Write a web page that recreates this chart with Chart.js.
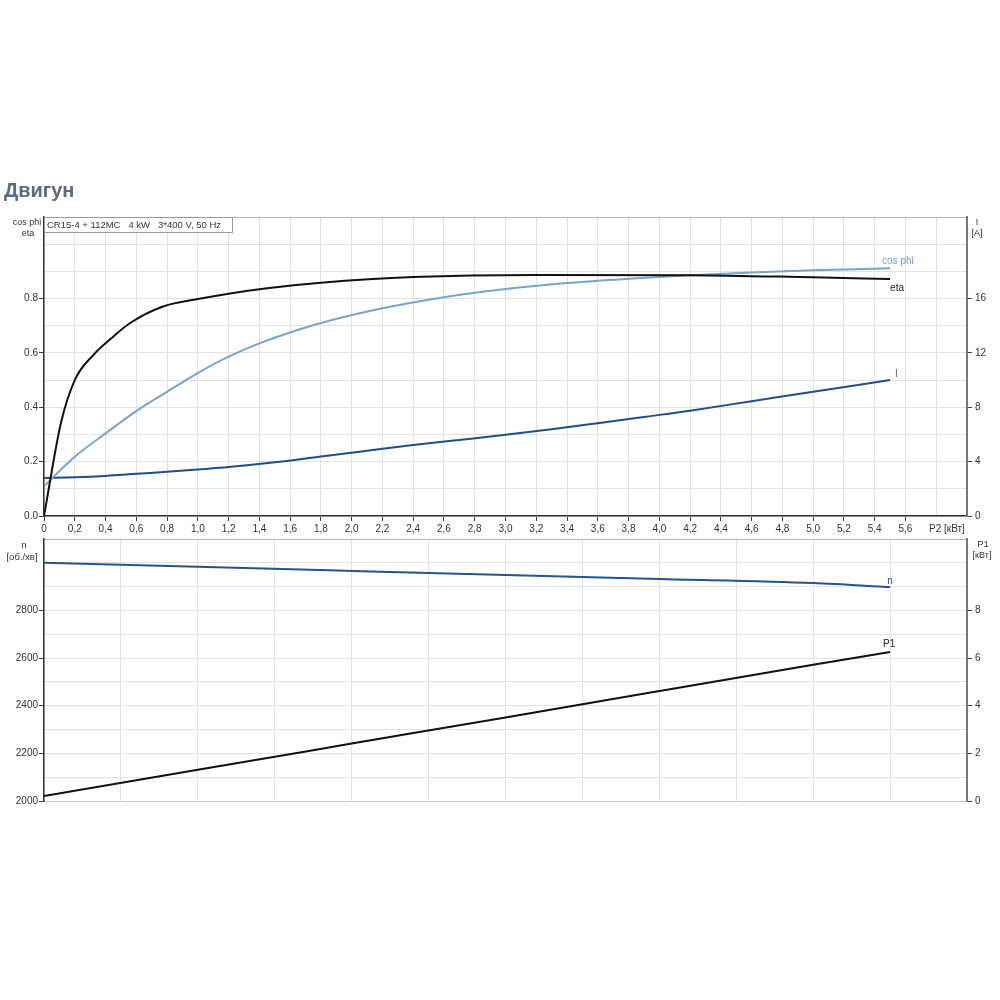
<!DOCTYPE html>
<html>
<head>
<meta charset="utf-8">
<script src="https://cdn.jsdelivr.net/npm/chart.js@4"></script>
<style>
  body { margin: 0; background: #fff; }
  canvas { position: absolute; left: 0; top: 0; }
</style>
</head>
<body>
<canvas id="topChart" width="1000" height="1000"></canvas>
<canvas id="bottomChart" width="1000" height="1000"></canvas>
<script>
// --- дані кривих двигуна ---
const etaP2  = [0, 0.11, 0.2, 0.32, 0.44, 0.56, 0.77, 1.0, 1.2, 1.45, 1.8, 2.4, 3.2, 4.2, 5.0, 5.5];
const etaVal = [0, 0.342, 0.50, 0.592, 0.655, 0.71, 0.77, 0.798, 0.818, 0.838, 0.858, 0.879, 0.887, 0.886, 0.878, 0.872];

const cosP2  = [0, 0.2, 0.4, 0.6, 0.8, 1.0, 1.2, 1.4, 1.6, 1.8, 2.2, 2.6, 3.0, 3.4, 3.8, 4.2, 4.6, 5.0, 5.5];
const cosVal = [0.11, 0.218, 0.304, 0.386, 0.457, 0.526, 0.586, 0.635, 0.675, 0.71, 0.764, 0.805, 0.835, 0.857, 0.873, 0.886, 0.896, 0.904, 0.911];

const curP2  = [0, 0.2, 0.4, 0.6, 0.8, 1.0, 1.2, 1.5, 1.8, 2.1, 2.4, 2.7, 3.0, 3.3, 3.6, 3.9, 4.2, 4.6, 5.0, 5.5];
const curVal = [2.8, 2.85, 2.95, 3.1, 3.25, 3.42, 3.6, 3.95, 4.38, 4.8, 5.22, 5.6, 5.97, 6.38, 6.83, 7.29, 7.75, 8.45, 9.15, 10.0];

const nP2    = [0, 1, 2, 3, 4, 5, 5.5];
const nVal   = [3000, 2983, 2966, 2949, 2932, 2915, 2898];

const p1P2   = [0, 1, 2, 3, 4, 5, 5.5];
const p1Val  = [0.21, 1.31, 2.41, 3.51, 4.62, 5.72, 6.26];

// --- підписи осей ---
const p2Ticks    = [0, 0.2, 0.4, 0.6, 0.8, 1.0, 1.2, 1.4, 1.6, 1.8, 2.0, 2.2, 2.4, 2.6, 2.8, 3.0, 3.2, 3.4, 3.6, 3.8, 4.0, 4.2, 4.4, 4.6, 4.8, 5.0, 5.2, 5.4, 5.6];
const etaTicks   = [0, 0.2, 0.4, 0.6, 0.8];
const curTicks   = [0, 4, 8, 12, 16];
const speedTicks = [2000, 2200, 2400, 2600, 2800];
const powerTicks = [0, 2, 4, 6, 8];

const fontFamily = '"Liberation Sans", Arial, sans-serif';
const tickFont = { family: fontFamily, size: 10 };

function range(a, b, step) {
    const out = [];
    for (let v = a; v <= b + 1e-9; v += step) out.push(Math.round(v * 1000) / 1000);
    return out;
}
function hasTick(list, v) {
    return list.some(t => Math.abs(t - v) < 1e-6);
}
function pts(xs, ys) {
    return xs.map((x, i) => ({ x: x, y: ys[i] }));
}
function tickCol(list) {
    return c => (c.tick && hasTick(list, c.tick.value)) ? '#444' : 'transparent';
}

// підписи в кінці кривих
function drawEndLabels(chart) {
    const ctx = chart.ctx;
    ctx.font = '10px ' + fontFamily;
    ctx.textBaseline = 'middle';
    chart.data.datasets.forEach(ds => {
        const last = ds.data[ds.data.length - 1];
        const px = chart.scales.x.getPixelForValue(last.x);
        const py = chart.scales[ds.yAxisID].getPixelForValue(last.y);
        const L = ds.endLabel;
        ctx.fillStyle = L.color;
        ctx.textAlign = L.align;
        ctx.fillText(ds.label, px + L.dx, py + L.dy);
    });
}

function text(ctx, s, x, y, align, color) {
    ctx.textAlign = align || 'center';
    ctx.fillStyle = color || '#333';
    ctx.fillText(s, x, y);
}

const topTexts = {
    id: 'topTexts',
    afterDraw(chart) {
        const ctx = chart.ctx;
        const area = chart.chartArea;
        ctx.save();
        ctx.font = 'bold 20px ' + fontFamily;
        ctx.textBaseline = 'alphabetic';
        text(ctx, 'Двигун', 4, 197, 'left', '#5b6b7b');

        // рамка з описом
        ctx.fillStyle = '#fff';
        ctx.fillRect(area.left + 0.5, area.top + 0.5, 188, 15);
        ctx.strokeStyle = '#9a9a9a';
        ctx.lineWidth = 1;
        ctx.strokeRect(area.left + 0.5, area.top + 0.5, 188, 15);
        ctx.font = '9.5px ' + fontFamily;
        ctx.textBaseline = 'middle';
        text(ctx, 'CR15-4 + 112MC   4 kW   3*400 V, 50 Hz', area.left + 3, area.top + 8.5, 'left', '#333');

        ctx.font = '9px ' + fontFamily;
        text(ctx, 'cos phi', 27, 223);
        text(ctx, 'eta', 28, 234);
        text(ctx, 'I', 977, 223);
        text(ctx, '[A]', 977, 234);
        ctx.font = '10px ' + fontFamily;
        text(ctx, 'P2 [кВт]', 929, 529, 'left');

        drawEndLabels(chart);
        ctx.restore();
    }
};

const bottomTexts = {
    id: 'bottomTexts',
    afterDraw(chart) {
        const ctx = chart.ctx;
        ctx.save();
        ctx.font = '9.5px ' + fontFamily;
        ctx.textBaseline = 'middle';
        text(ctx, 'n', 24, 545);
        text(ctx, '[об./хв]', 22, 557);
        text(ctx, 'P1', 983, 544);
        ctx.font = '9px ' + fontFamily;
        text(ctx, '[кВт]', 982, 556);
        drawEndLabels(chart);
        ctx.restore();
    }
};

const common = {
    responsive: false,
    animation: false,
    devicePixelRatio: 1,
    plugins: { legend: { display: false }, tooltip: { enabled: false } },
    elements: {
        point: { radius: 0 },
        line: { borderWidth: 2, cubicInterpolationMode: 'monotone' }
    }
};

new Chart(document.getElementById('topChart'), {
    type: 'line',
    data: {
        datasets: [
            { label: 'eta', data: pts(etaP2, etaVal), yAxisID: 'y', borderColor: '#111',
              endLabel: { dx: 0, dy: 9, align: 'left', color: '#222' } },
            { label: 'cos phi', data: pts(cosP2, cosVal), yAxisID: 'y', borderColor: '#7ba4c9',
              endLabel: { dx: -8, dy: -7, align: 'left', color: '#6f9cc6' } },
            { label: 'I', data: pts(curP2, curVal), yAxisID: 'y1', borderColor: '#1f4f86',
              endLabel: { dx: 5, dy: -6, align: 'left', color: '#3f6b9c' } }
        ]
    },
    options: {
        ...common,
        layout: { padding: { left: 0, right: 0, top: 217, bottom: 460 } },
        scales: {
            x: {
                type: 'linear', min: 0, max: 6,
                afterFit: s => { s.height = 24; },
                afterBuildTicks: s => { s.ticks = range(0, 6, 0.2).map(v => ({ value: v })); },
                grid: { color: '#e2e2e2', tickLength: 5, tickColor: tickCol(p2Ticks) },
                border: { color: '#333', width: 1.5 },
                ticks: {
                    font: tickFont, color: '#333', padding: 2, maxRotation: 0, autoSkip: false,
                    callback: v => hasTick(p2Ticks, v) ? (v === 0 ? '0' : v.toFixed(1).replace('.', ',')) : ''
                }
            },
            y: {
                position: 'left', min: 0, max: 1.1,
                afterFit: s => { s.width = 44; },
                afterBuildTicks: s => { s.ticks = range(0, 1.1, 0.1).map(v => ({ value: v })); },
                grid: {
                    color: c => (c.tick && c.tick.value > 1.05) ? '#b5b5b5' : '#e2e2e2',
                    tickLength: 5, tickColor: tickCol(etaTicks)
                },
                border: { color: '#333', width: 1.5 },
                ticks: {
                    font: tickFont, color: '#333', padding: 1, autoSkip: false,
                    callback: v => hasTick(etaTicks, v) ? v.toFixed(1) : ''
                }
            },
            y1: {
                position: 'right', min: 0, max: 22,
                afterFit: s => { s.width = 33; },
                afterBuildTicks: s => { s.ticks = curTicks.map(v => ({ value: v })); },
                grid: { drawOnChartArea: false, tickLength: 5, tickColor: '#444' },
                border: { color: '#777', width: 2 },
                ticks: { font: tickFont, color: '#333', padding: 3, autoSkip: false }
            }
        }
    },
    plugins: [topTexts]
});

new Chart(document.getElementById('bottomChart'), {
    type: 'line',
    data: {
        datasets: [
            { label: 'n', data: pts(nP2, nVal), yAxisID: 'y', borderColor: '#24558e',
              endLabel: { dx: 0, dy: -6, align: 'center', color: '#2c4f78' } },
            { label: 'P1', data: pts(p1P2, p1Val), yAxisID: 'y1', borderColor: '#111',
              endLabel: { dx: -1, dy: -8, align: 'center', color: '#222' } }
        ]
    },
    options: {
        ...common,
        layout: { padding: { left: 0, right: 0, top: 539, bottom: 199 } },
        scales: {
            x: {
                type: 'linear', min: 0, max: 6,
                afterFit: s => { s.height = 0; },
                afterBuildTicks: s => { s.ticks = range(0, 6, 0.5).map(v => ({ value: v })); },
                grid: { color: '#e2e2e2', drawTicks: false },
                border: { color: '#c8c8c8', width: 1 },
                ticks: { display: false }
            },
            y: {
                position: 'left', min: 2000, max: 3100,
                afterFit: s => { s.width = 44; },
                afterBuildTicks: s => { s.ticks = range(2000, 3100, 100).map(v => ({ value: v })); },
                grid: {
                    color: c => (c.tick && c.tick.value > 3050) ? '#b5b5b5' : '#e2e2e2',
                    tickLength: 5, tickColor: tickCol(speedTicks)
                },
                border: { color: '#333', width: 1.5 },
                ticks: {
                    font: tickFont, color: '#333', padding: 1, autoSkip: false,
                    callback: v => hasTick(speedTicks, v) ? String(v) : ''
                }
            },
            y1: {
                position: 'right', min: 0, max: 11,
                afterFit: s => { s.width = 33; },
                afterBuildTicks: s => { s.ticks = powerTicks.map(v => ({ value: v })); },
                grid: { drawOnChartArea: false, tickLength: 5, tickColor: '#444' },
                border: { color: '#777', width: 2 },
                ticks: { font: tickFont, color: '#333', padding: 3, autoSkip: false }
            }
        }
    },
    plugins: [bottomTexts]
});
</script>
</body>
</html>
